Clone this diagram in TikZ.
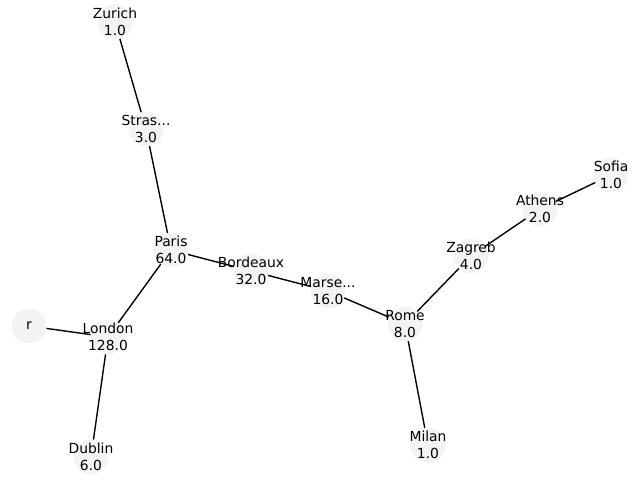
\documentclass[tikz,border=0pt]{standalone}
\usepackage{fontspec}
\setmainfont{DejaVu Sans}
\usepackage{tikz}
\usetikzlibrary{positioning}
\definecolor{nodegray}{RGB}{243,243,243}

\tikzset{
  city/.style={circle, fill=nodegray, minimum size=0.345in, inner sep=0pt},
  citytext/.style={align=center, inner sep=0pt, font=\fontsize{10}{12}\selectfont},
  road/.style={line width=1bp, black},
}

\begin{document}
\begin{tikzpicture}[x=0.01in, y=-0.01in]
\useasboundingbox (0,0) rectangle (640,480);

\node [city, label={[citytext]center:Zurich\\1.0}] (zurich) at (115,22) {};
\node [city, label={[citytext]center:Stras...\\3.0}] (stras) at (146,129) {};
\node [city, label={[citytext]center:Paris\\64.0}] (paris) at (171,250) {};
\node [city, label={[citytext]center:Bordeaux\\32.0}] (bordeaux) at (251,271) {};
\node [city, label={[citytext]center:Marse...\\16.0}] (marse) at (328,291) {};
\node [city, label={[citytext]center:Rome\\8.0}] (rome) at (405,324) {};
\node [city, label={[citytext]center:Zagreb\\4.0}] (zagreb) at (471,256) {};
\node [city, label={[citytext]center:Athens\\2.0}] (athens) at (540,209) {};
\node [city, label={[citytext]center:Sofia\\1.0}] (sofia) at (611,175) {};
\node [city, label={[citytext]center:London\\128.0}] (london) at (108,337) {};
\node [city, label={[citytext]center:r}] (r) at (29,326) {};
\node [city, label={[citytext]center:Dublin\\6.0}] (dublin) at (91,457) {};
\node [city, label={[citytext]center:Milan\\1.0}] (milan) at (428,445) {};

\draw [road] (zurich) -- (stras);
\draw [road] (stras) -- (paris);
\draw [road] (paris) -- (london);
\draw [road] (paris) -- (bordeaux);
\draw [road] (bordeaux) -- (marse);
\draw [road] (marse) -- (rome);
\draw [road] (rome) -- (zagreb);
\draw [road] (zagreb) -- (athens);
\draw [road] (athens) -- (sofia);
\draw [road] (rome) -- (milan);
\draw [road] (london) -- (r);
\draw [road] (london) -- (dublin);
\end{tikzpicture}
\end{document}
